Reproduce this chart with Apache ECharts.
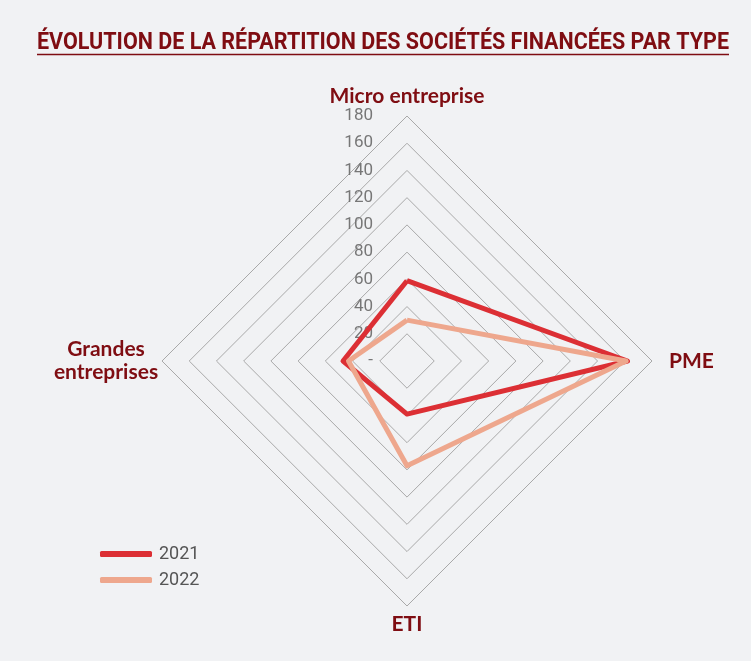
<!DOCTYPE html>
<html>
<head>
<meta charset="utf-8">
<script src="https://cdn.jsdelivr.net/npm/echarts@6/dist/echarts.min.js"></script>
<style>
  html, body { margin: 0; padding: 0; background: #f1f2f4; }
  #chart { width: 751px; height: 661px; }
</style>
</head>
<body>
<div id="chart"></div>
<script>
// radar axes, counter-clockwise from the top (ECharts draws them that way)
const indicators = ['Micro entreprise', 'Grandes\nentreprises', 'ETI', 'PME'];
const axisMax = 180;

// values per year, same order as indicators
const years = ['2021', '2022'];
const values2021 = [59, 47, 39, 162];
const values2022 = [30, 43, 77, 161];

const colors = ['#dc2f34', '#eea78d'];
const titleText = 'ÉVOLUTION DE LA RÉPARTITION DES SOCIÉTÉS FINANCÉES PAR TYPE';
const darkRed = '#7f0d12';

// squeeze the title so it fits the underline width, like a condensed font
const titleFont = 'bold 24px Roboto';
const ctx = document.createElement('canvas').getContext('2d');
ctx.font = titleFont;
const titleW = ctx.measureText(titleText).width;
const titleScale = 692 / titleW;

const nameFont = { color: darkRed, fontFamily: 'Lato', fontWeight: 'bold', fontSize: 21, lineHeight: 23 };

let myChart = echarts.init(document.getElementById('chart'));

let option = {
    backgroundColor: '#f1f2f4',
    color: colors,
    graphic: [{
        type: 'text',
        x: 37,
        y: 43,
        scaleX: titleScale,
        style: {
            text: titleText,
            font: titleFont,
            fill: darkRed,
            textAlign: 'left',
            textVerticalAlign: 'middle'
        }
    }, {
        type: 'line',
        shape: { x1: 37, y1: 54.5, x2: 729, y2: 54.5 },
        style: { stroke: darkRed, lineWidth: 1.5 }
    }],
    legend: {
        orient: 'vertical',
        left: 95,
        top: 540,
        itemWidth: 52,
        itemHeight: 6,
        itemGap: 8,
        icon: 'roundRect',
        textStyle: { fontFamily: 'Roboto', fontSize: 18, color: '#555', padding: [0, 0, 0, 2] },
        data: years
    },
    radar: {
        center: [407, 361],
        radius: 245,
        shape: 'polygon',
        splitNumber: 9,
        startAngle: 90,
        indicator: indicators.map(name => ({ name: name, min: 0, max: axisMax })),
        axisName: Object.assign({}, nameFont, {
            formatter: function (name) {
                if (name === 'PME') return '{p|PME}';
                if (name === 'ETI') return '{e|ETI}';
                if (name.indexOf('\n') >= 0) {
                    return name.split('\n').map(s => '{c|' + s + '}').join('\n');
                }
                return '{m|' + name + '}';
            },
            rich: {
                m: Object.assign({}, nameFont),
                e: Object.assign({ padding: [7, 0, 0, 0] }, nameFont),
                p: Object.assign({ padding: [0, 0, 0, 14] }, nameFont),
                c: Object.assign({ width: 106, align: 'center' }, nameFont)
            }
        }),
        nameGap: 3,
        axisLine: { show: false },
        splitArea: { show: false },
        splitLine: { lineStyle: { color: '#a9a9a9', width: 1 } }
    },
    series: [{
        type: 'radar',
        symbol: 'none',
        data: [
            { name: years[0], value: values2021, lineStyle: { color: colors[0], width: 5 } },
            { name: years[1], value: values2022, lineStyle: { color: colors[1], width: 5 } }
        ],
        z: 3
    }]
};

// tick labels only on the first axis (Micro entreprise)
option.radar.indicator[0].axisLabel = {
    show: true,
    color: '#777',
    fontFamily: 'Roboto',
    fontSize: 17,
    margin: 34,
    formatter: v => v === 0 ? '-' : v
};

option && myChart.setOption(option);
</script>
</body>
</html>
